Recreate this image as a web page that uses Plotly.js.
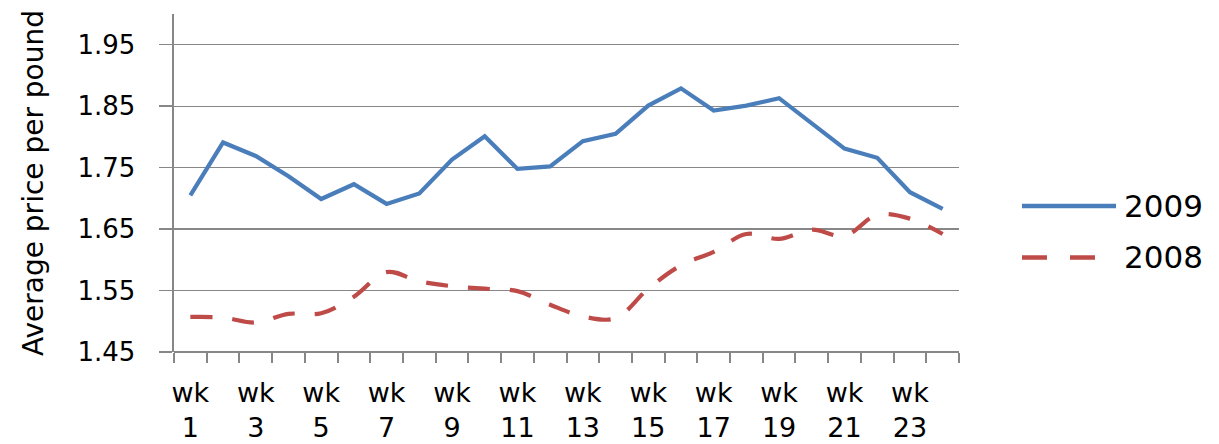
<!DOCTYPE html>
<html>
<head>
<meta charset="utf-8">
<script src="https://cdn.plot.ly/plotly-3.0.1.min.js"></script>
<style>html,body{margin:0;padding:0;background:#fff;}#chart{width:1219px;height:444px;}</style>
</head>
<body>
<div id="chart"></div>
<script>
var weeks = [1,2,3,4,5,6,7,8,9,10,11,12,13,14,15,16,17,18,19,20,21,22,23,24];
var tickWeeks = [1,3,5,7,9,11,13,15,17,19,21,23];
var tickLabels = ["wk<br>1","wk<br>3","wk<br>5","wk<br>7","wk<br>9","wk<br>11","wk<br>13","wk<br>15","wk<br>17","wk<br>19","wk<br>21","wk<br>23"];
var seriesNames = ["2009", "2008"];
var price2009 = [1.705,1.791,1.769,1.736,1.699,1.723,1.691,1.708,1.763,1.801,1.748,1.752,
                 1.793,1.805,1.851,1.879,1.843,1.851,1.863,1.823,1.781,1.766,1.710,1.683];
var price2008 = [1.507,1.506,1.498,1.512,1.513,1.540,1.580,1.565,1.557,1.553,1.549,1.527,
                 1.508,1.505,1.553,1.591,1.613,1.642,1.634,1.649,1.639,1.673,1.667,1.642];
var yTicks = [1.45,1.55,1.65,1.75,1.85,1.95];

var blue = "#4a7ebb", red = "#be4b48", grey = "#878787";
var FONT = "DejaVu Sans, Liberation Sans, Arial, sans-serif";

var traces = [
  {x: weeks, y: price2009, type: "scatter", mode: "lines", name: seriesNames[0],
   line: {color: blue, width: 4.2}, showlegend: false},
  {x: weeks, y: price2008, type: "scatter", mode: "lines", name: seriesNames[1],
   line: {color: red, width: 4.2, dash: "22px,20px", shape: "spline", smoothing: 1}, showlegend: false}
];

function px2x(p){ return (p - 174) / 785; }
function px2y(p){ return (352 - p) / 338; }

var layout = {
  width: 1219, height: 444,
  margin: {l: 174, r: 260, t: 14, b: 92},
  paper_bgcolor: "#fff", plot_bgcolor: "#fff",
  font: {family: FONT, color: "#000"},
  showlegend: false,
  xaxis: {
    range: [0.5, 24.5], tickmode: "array", tickvals: tickWeeks, ticktext: tickLabels,
    ticks: "", showgrid: false, zeroline: false, showline: false,
    tickfont: {family: FONT, size: 27, color: "#000"}, ticklabelstandoff: 22,
    minor: {tickmode: "linear", tick0: 0.5, dtick: 1, ticks: "outside", ticklen: 10,
            tickwidth: 2, tickcolor: grey, showgrid: false}
  },
  yaxis: {
    range: [1.45, 2.0], tickmode: "array", tickvals: yTicks,
    ticktext: yTicks.map(function(v){return v.toFixed(2);}),
    ticks: "outside", ticklen: 13, tickwidth: 1.5, tickcolor: grey,
    showgrid: true, gridcolor: grey, gridwidth: 1.3,
    zeroline: false, showline: true, linecolor: grey, linewidth: 2.5,
    tickfont: {family: FONT, size: 26, color: "#000"}, ticklabelstandoff: 18,
    title: {text: "Average price per pound", font: {family: FONT, size: 28, color: "#000"}, standoff: 26}
  },
  shapes: [
    {type: "line", xref: "paper", yref: "paper", x0: 0, x1: 1, y0: 0, y1: 0,
     line: {color: grey, width: 2}},
    {type: "line", xref: "paper", yref: "paper", x0: px2x(1022), x1: px2x(1116), y0: px2y(206), y1: px2y(206),
     line: {color: blue, width: 4.5}},
    {type: "line", xref: "paper", yref: "paper", x0: px2x(1022), x1: px2x(1095), y0: px2y(257.5), y1: px2y(257.5),
     line: {color: red, width: 4.5, dash: "25px,23px"}}
  ],
  annotations: [
    {xref: "paper", yref: "paper", x: px2x(1122), y: px2y(206), xanchor: "left", yanchor: "middle",
     text: seriesNames[0], showarrow: false, font: {family: FONT, size: 31, color: "#000"}},
    {xref: "paper", yref: "paper", x: px2x(1122), y: px2y(257), xanchor: "left", yanchor: "middle",
     text: seriesNames[1], showarrow: false, font: {family: FONT, size: 31, color: "#000"}}
  ]
};

Plotly.newPlot("chart", traces, layout, {staticPlot: true, displayModeBar: false});
</script>
</body>
</html>
